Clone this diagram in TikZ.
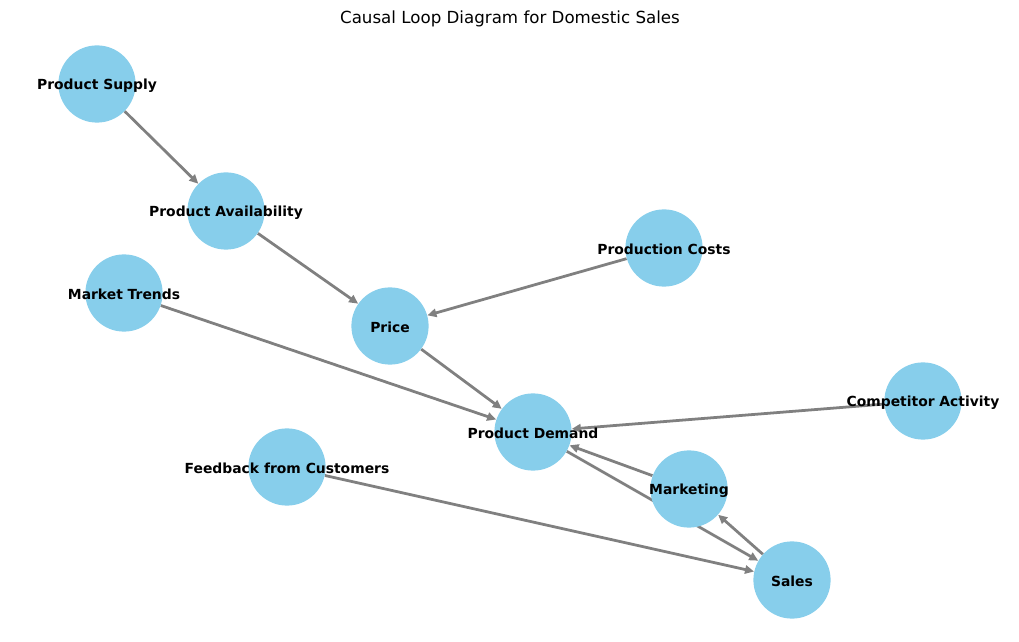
\documentclass[tikz,border=0pt]{standalone}
\usepackage{fontspec}
\setmainfont{DejaVu Sans}
\usetikzlibrary{arrows.meta,backgrounds}
\definecolor{skyb}{HTML}{87CEEB}
\definecolor{edgegray}{HTML}{808080}
\tikzset{
  vnode/.style={circle, fill=skyb, minimum size=55.6pt, inner sep=0pt,
    label={[font=\fontsize{10}{12}\selectfont\bfseries, text=black, yshift=-1.2pt]center:#1}},
  link/.style={draw=edgegray, line width=2pt,
    -{Triangle[length=6.5pt,width=6pt]}}
}
\begin{document}
\begin{tikzpicture}[x=0.72pt, y=-0.72pt]
\useasboundingbox (0,0) rectangle (1019,642);
\node[font=\fontsize{12}{14}\selectfont] (title) at (510,19) {Causal Loop Diagram for Domestic Sales};
\node[vnode={Product Supply}] (ps) at (97,84) {};
\node[vnode={Product Availability}] (pa) at (226,211) {};
\node[vnode={Production Costs}] (pc) at (664,248) {};
\node[vnode={Market Trends}] (mt) at (124,293) {};
\node[vnode={Price}] (pr) at (390,326) {};
\node[vnode={Competitor Activity}] (ca) at (923,401) {};
\node[vnode={Product Demand}] (pd) at (533,432) {};
\node[vnode={Feedback from Customers}] (fc) at (287,467) {};
\node[vnode={Marketing}] (mk) at (689,489) {};
\node[vnode={Sales}] (sa) at (792,580) {};
\begin{pgfonlayer}{background}
\draw[link] (ps) -- (pa);
\draw[link] (pa) -- (pr);
\draw[link] (pc) -- (pr);
\draw[link] (mt) -- (pd);
\draw[link] (pr) -- (pd);
\draw[link] (ca) -- (pd);
\draw[link] (mk) -- (pd);
\draw[link] (pd) -- (sa);
\draw[link] (sa) -- (mk);
\draw[link] (fc) -- (sa);
\end{pgfonlayer}
\end{tikzpicture}
\end{document}
